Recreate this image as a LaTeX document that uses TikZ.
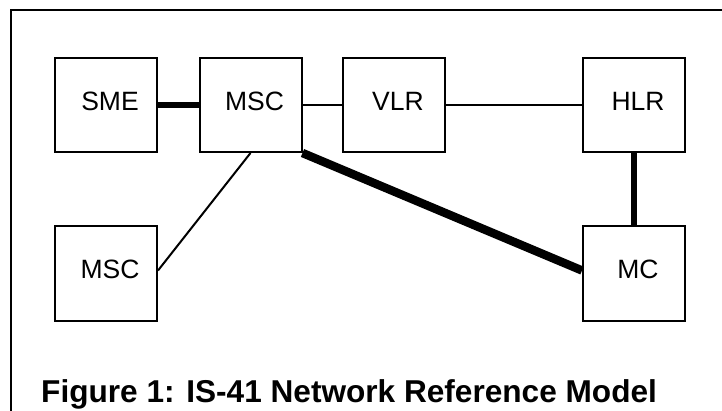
\documentclass[tikz,border=0pt]{standalone}
\usepackage{fontspec}
\setmainfont{Liberation Sans}
\begin{document}
\begin{tikzpicture}[x=1pt,y=-1pt,
  unit/.style={draw=black,line width=2pt,minimum width=102pt,minimum height=94pt,inner sep=0pt,fill=white},
  lbl/.style={label={[shift={(4pt,4pt)},font=\fontsize{26.5}{30}\selectfont]center:#1}},
  thin/.style={line width=2pt},
  thickA/.style={line width=5.5pt},
  thickB/.style={line width=8.5pt},
  thickC/.style={line width=6pt},
  frame/.style={line width=2.5pt}]
\useasboundingbox (0,0) rectangle (722,411);
\fill[white] (0,0) rectangle (722,411);
\coordinate (fbl) at (11,412);
\coordinate (ftl) at (11,10);
\coordinate (ftr) at (723,10);
\draw[frame] (fbl) -- (ftl) -- (ftr);
\node[unit,lbl=SME] (sme) at (106,105) {};
\node[unit,lbl=MSC] (msc) at (250.5,105) {};
\node[unit,lbl=VLR] (vlr) at (394,105) {};
\node[unit,lbl=HLR] (hlr) at (634,105) {};
\node[unit,lbl=MSC] (msc2) at (106,273.5) {};
\node[unit,lbl=MC] (mc) at (634,273.5) {};
\draw[thickA] (sme.east) -- (msc.west);
\draw[thin] (msc.east) -- (vlr.west);
\draw[thin] (vlr.east) -- (hlr.west);
\draw[thin] (msc.south) -- ([yshift=3pt]msc2.east);
\draw[thickB] (msc.south east) -- ([yshift=3pt]mc.west);
\draw[thickC] (hlr.south) -- (mc.north);
\node[anchor=base west,inner sep=0pt,font=\bfseries\fontsize{31.6}{36}\selectfont] (cap) at (41,402) {Figure 1: IS-41 Network Reference Model};
\end{tikzpicture}
\end{document}
